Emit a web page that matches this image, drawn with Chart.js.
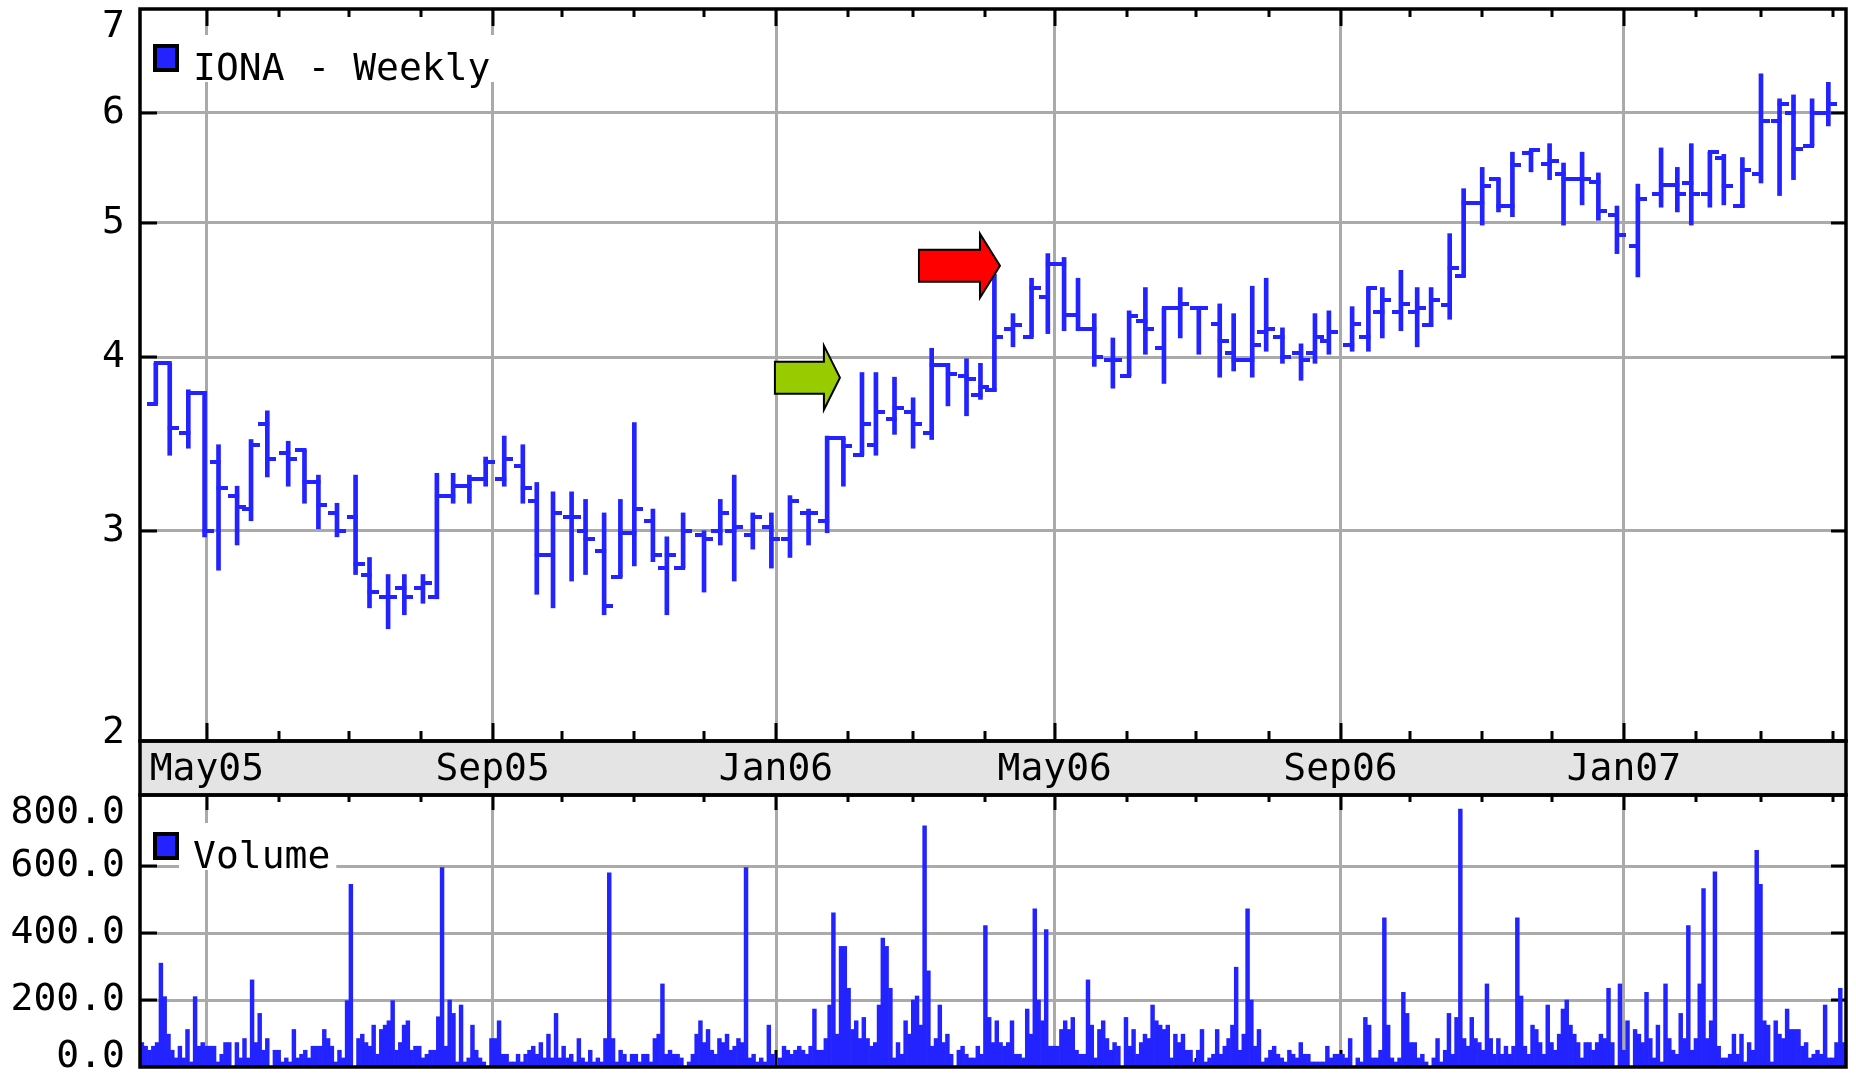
<!DOCTYPE html>
<html>
<head>
<meta charset="utf-8">
<title>IONA - Weekly</title>
<script src="https://cdn.jsdelivr.net/npm/chart.js"></script>
<style>
  html, body { margin: 0; padding: 0; background: #fff; }
  #wrap { position: relative; width: 1856px; height: 1073px; overflow: hidden; }
  #wrap canvas { position: absolute; left: 0; }
  #price { top: 0; }
  #volume { top: 780px; }
</style>
</head>
<body>
<div id="wrap">
  <canvas id="price" width="1856" height="800"></canvas>
  <canvas id="volume" width="1856" height="293"></canvas>
</div>
<script>
// x values are days after 1 Apr 2005
const START = Date.UTC(2005, 3, 1);
const DAY = 86400000;
const X_MIN = 1.2;
const X_MAX = 735.6;
const MONTHS = ["Jan", "Feb", "Mar", "Apr", "May", "Jun", "Jul", "Aug", "Sep", "Oct", "Nov", "Dec"];

// weekly bars
const barDay = [
  8, 14, 22, 29, 35, 43, 49, 56, 65, 72,
  78, 86, 94, 100, 108, 115, 123, 129, 136, 143,
  150, 158, 166, 172, 179, 187, 193, 201, 208, 214,
  222, 228, 235, 244, 251, 257, 265, 273, 281, 289,
  297, 304, 312, 318, 326, 334, 342, 349, 357, 363,
  369, 377, 385, 392, 399, 405, 412, 420, 427, 434,
  442, 449, 457, 466, 472, 480, 486, 493, 501, 507,
  513, 523, 530, 536, 544, 551, 557, 565, 571, 579,
  586, 592, 600, 608, 614, 622, 629, 637, 646, 656,
  663, 669, 677, 683, 691, 699, 707, 713, 721, 728,
];
const opens = [
  3.70, 3.96, 3.53, 3.77, 3.36, 3.18, 3.11, 3.58, 3.41, 3.43,
  3.25, 3.09, 3.07, 2.79, 2.69, 2.73, 2.73, 2.69, 3.18, 3.23,
  3.27, 3.27, 3.34, 3.15, 2.88, 3.07, 3.00, 2.90, 2.78, 2.99,
  3.05, 2.82, 2.82, 2.98, 3.00, 3.00, 2.98, 3.02, 2.96, 3.09,
  3.05, 3.50, 3.40, 3.46, 3.61, 3.65, 3.53, 3.95, 3.88, 3.76,
  3.79, 4.19, 4.14, 4.42, 4.67, 4.29, 4.19, 3.98, 3.88, 4.25,
  4.06, 4.34, 4.34, 4.23, 4.03, 3.98, 4.17, 4.14, 4.03, 4.03,
  4.11, 4.08, 4.14, 4.31, 4.31, 4.31, 4.22, 4.36, 4.58, 5.17,
  5.38, 5.14, 5.61, 5.51, 5.42, 5.38, 5.35, 5.06, 4.81, 5.24,
  5.32, 5.34, 5.24, 5.57, 5.14, 5.42, 5.92, 6.00, 5.68, 6.00,
];
const highs = [
  3.96, 3.96, 3.79, 3.78, 3.46, 3.23, 3.49, 3.66, 3.48, 3.43,
  3.29, 3.14, 3.29, 2.87, 2.79, 2.79, 2.79, 3.30, 3.30, 3.29,
  3.39, 3.51, 3.46, 3.25, 3.20, 3.20, 3.16, 3.09, 3.16, 3.59,
  3.11, 2.97, 3.09, 3.00, 3.16, 3.29, 3.09, 3.09, 3.18, 3.11,
  3.51, 3.50, 3.90, 3.90, 3.87, 3.74, 4.06, 3.96, 3.99, 3.96,
  4.59, 4.30, 4.56, 4.75, 4.72, 4.56, 4.30, 4.13, 4.32, 4.49,
  4.34, 4.49, 4.34, 4.37, 4.30, 4.50, 4.56, 4.20, 4.09, 4.30,
  4.32, 4.35, 4.49, 4.49, 4.62, 4.49, 4.49, 4.91, 5.29, 5.48,
  5.38, 5.62, 5.64, 5.70, 5.52, 5.62, 5.43, 5.14, 5.33, 5.66,
  5.48, 5.70, 5.62, 5.60, 5.57, 6.40, 6.14, 6.18, 6.14, 6.31,
];
const lows = [
  3.70, 3.40, 3.44, 2.97, 2.81, 2.93, 3.05, 3.28, 3.23, 3.14,
  3.01, 2.97, 2.79, 2.64, 2.55, 2.61, 2.66, 2.68, 3.14, 3.14,
  3.23, 3.23, 3.14, 2.70, 2.64, 2.76, 2.79, 2.61, 2.78, 2.83,
  2.85, 2.61, 2.82, 2.71, 2.93, 2.76, 2.91, 2.82, 2.87, 2.93,
  2.99, 3.23, 3.40, 3.40, 3.52, 3.44, 3.49, 3.69, 3.63, 3.73,
  3.78, 4.07, 4.14, 4.16, 4.18, 4.18, 3.94, 3.80, 3.88, 4.02,
  3.83, 4.13, 4.02, 3.87, 3.91, 3.87, 4.04, 3.96, 3.85, 3.96,
  4.02, 4.04, 4.04, 4.13, 4.18, 4.07, 4.21, 4.26, 4.57, 4.98,
  5.09, 5.05, 5.44, 5.37, 4.98, 5.15, 5.02, 4.75, 4.57, 5.13,
  5.09, 4.98, 5.13, 5.15, 5.13, 5.34, 5.23, 5.37, 5.68, 5.87,
];
const closes = [
  3.96, 3.56, 3.77, 3.00, 3.22, 3.12, 3.46, 3.38, 3.38, 3.25,
  3.13, 3.00, 2.84, 2.71, 2.69, 2.69, 2.75, 3.18, 3.23, 3.27,
  3.36, 3.38, 3.22, 2.88, 3.09, 3.07, 2.96, 2.65, 2.99, 3.11,
  2.88, 2.88, 3.00, 2.96, 3.09, 3.02, 3.07, 2.96, 3.15, 3.09,
  3.50, 3.45, 3.58, 3.65, 3.68, 3.58, 3.95, 3.89, 3.86, 3.81,
  4.14, 4.22, 4.49, 4.67, 4.29, 4.19, 4.00, 3.98, 4.28, 4.19,
  4.34, 4.37, 4.34, 4.11, 3.98, 4.08, 4.19, 4.00, 3.98, 4.14,
  4.17, 4.23, 4.49, 4.40, 4.37, 4.34, 4.40, 4.64, 5.17, 5.31,
  5.14, 5.50, 5.64, 5.54, 5.38, 5.38, 5.10, 4.90, 5.20, 5.32,
  5.24, 5.24, 5.62, 5.31, 5.46, 5.92, 6.09, 5.65, 6.00, 6.09,
];

// daily volume (thousands), one value per session, oldest first
const dailyVolume = [
  73, 62, 50, 62, 73, 310, 210, 98, 50, 27,
  62, 27, 112, 15, 210, 62, 73, 62, 62, 62,
  15, 38, 73, 73, 0, 73, 27, 85, 27, 260,
  73, 160, 50, 85, 0, 50, 50, 15, 27, 15,
  112, 27, 38, 50, 27, 62, 62, 62, 112, 85,
  62, 15, 50, 27, 198, 545, 0, 85, 98, 73,
  62, 125, 38, 112, 125, 138, 198, 50, 73, 125,
  138, 50, 62, 62, 27, 38, 50, 50, 150, 595,
  62, 200, 160, 15, 185, 15, 27, 125, 50, 27,
  15, 0, 85, 85, 138, 38, 38, 15, 15, 38,
  15, 38, 50, 62, 38, 73, 27, 98, 27, 160,
  27, 62, 27, 38, 15, 85, 27, 15, 50, 15,
  27, 15, 85, 580,
  85, 15, 50, 38, 15, 38, 38, 15,
  38, 38, 15, 85, 98, 248, 38, 50, 38, 38,
  27, 0, 15, 38, 98, 138, 73, 112, 50, 38,
  85, 73, 98, 50, 62, 85, 73, 595, 27, 38,
  15, 27, 15, 125, 38, 0, 27, 62, 50, 38,
  50, 62, 50, 38, 62, 173, 50, 50, 85,
  185, 460, 98, 360, 360, 235, 112, 138, 85, 148,
  85, 62, 73, 185, 385, 360, 235, 27, 73, 38,
  138, 98, 200, 212, 125, 720, 287, 62, 85, 185,
  73, 98, 38, 0, 50, 62, 38, 27, 27, 62,
  38, 422, 148, 73, 138, 73, 62, 73, 138, 38,
  38, 27, 173, 98, 472, 200, 138, 410, 62, 62,
  62, 112, 138, 112, 148, 50, 38, 38, 260, 125,
  27, 112, 138, 85, 50, 73, 62, 0, 148, 62,
  112, 38, 73, 98, 85, 185, 138, 125, 112, 125,
  27, 98, 73, 98, 50, 50, 15, 50, 112, 15,
  27, 38, 112, 38,
  62, 85, 125, 298, 50, 98, 472, 200, 62, 112,
  15, 27, 50, 62, 38, 27, 15, 50, 38, 27,
  73, 38, 38, 15, 15, 15, 15, 62, 27, 38, 38, 38,
  27, 85, 0, 27, 15, 148, 125, 27, 27, 50,
  445, 125, 27, 15, 27, 223, 160, 73, 73, 27,
  38, 15, 0, 27, 85, 15, 50, 160, 38, 148,
  770, 85, 62, 148, 85, 73, 50, 248, 85, 38,
  85, 38, 62, 38, 62, 445, 212, 62, 38, 125,
  112, 73, 38, 185, 73, 50, 98, 173, 200, 125,
  98, 73, 27, 73, 73, 50, 73, 98, 85, 235,
  73, 0, 248, 50, 138, 0, 112, 98, 73, 223,
  85, 27, 125, 15, 248, 85, 50, 38, 160, 85,
  422, 50, 85, 248, 533, 85, 138, 583, 62, 27,
  27, 38, 98, 38, 98, 15, 73, 50, 647, 545,
  138, 125, 15, 138, 98, 85, 173, 112, 112, 112,
  62, 73, 27, 38, 50, 38, 185, 27, 27, 73,
  235, 73,
];

// axis ticks (the end labels sit just inside the plot, like the original)
const priceTicks = [2.145, 3, 4, 5, 6, 6.92];
const priceGrid = [3, 4, 5, 6];
const volumeTicks = [30, 200, 400, 600, 758];
const volumeGrid = [200, 400, 600];

// the two markers pointing at the breakout weeks
const arrows = [
  { day: 302.5, price: 3.867, fill: "#99cc00", body: 49, head: 16 },
  { day: 371.4, price: 4.656, fill: "#ff0000", body: 61, head: 20 },
];

const BLUE = "#2323ff";
const GRID = "#aaaaaa";
const FAMILY = '"DejaVu Sans Mono", monospace';
const FONT = { family: FAMILY, size: 38 };
const CLEAR = "rgba(0,0,0,0)";

const monthOf = (v) => new Date(START + v * DAY).getUTCMonth();
const isMajor = (v) => monthOf(v) % 4 === 0;
const monthLabel = (v) => {
  const d = new Date(START + v * DAY);
  return MONTHS[d.getUTCMonth()] + String(d.getUTCFullYear()).slice(2);
};

const monthTicks = () => {
  const out = [];
  for (let y = 2005; y <= 2007; y++) {
    for (let m = 0; m < 12; m++) {
      const d = (Date.UTC(y, m, 1) - START) / DAY;
      if (d > X_MIN && d < X_MAX) out.push({ value: d });
    }
  }
  return out;
};

const tickImage = (side) => {
  const c = document.createElement("canvas");
  c.width = 18;
  c.height = 4;
  const g = c.getContext("2d");
  g.fillStyle = BLUE;
  if (side === "left") g.fillRect(0, 0, 11, 4);
  else g.fillRect(7, 0, 11, 4);
  return c;
};

const drawLegend = (chart, text, dy) => {
  const { ctx, chartArea: a } = chart;
  ctx.save();
  ctx.font = "38px " + FAMILY;
  const tw = ctx.measureText(text).width;
  const bx = a.left + 13;
  const by = a.top + dy;
  ctx.fillStyle = "#fff";
  ctx.fillRect(bx + 26, by - 9, tw + 20, 47);
  ctx.fillStyle = "#000";
  ctx.fillRect(bx, by, 26, 28);
  ctx.fillStyle = BLUE;
  ctx.fillRect(bx + 4, by + 4, 18, 20);
  ctx.fillStyle = "#000";
  ctx.textBaseline = "alphabetic";
  ctx.textAlign = "left";
  ctx.fillText(text, bx + 40, by + 36);
  ctx.restore();
};

const drawArrow = (ctx, x, y, a) => {
  const len = a.body + a.head;
  ctx.save();
  ctx.beginPath();
  ctx.moveTo(x, y);
  ctx.lineTo(x - a.head, y - 32);
  ctx.lineTo(x - a.head, y - 16);
  ctx.lineTo(x - len, y - 16);
  ctx.lineTo(x - len, y + 16);
  ctx.lineTo(x - a.head, y + 16);
  ctx.lineTo(x - a.head, y + 32);
  ctx.closePath();
  ctx.fillStyle = a.fill;
  ctx.fill();
  ctx.lineWidth = 2;
  ctx.strokeStyle = "#000";
  ctx.stroke();
  ctx.restore();
};

// frame, inward tick marks, label band, legend and arrows
const framePlugin = {
  id: "frame",
  beforeDraw(chart, args, opts) {
    if (!opts.band) return;
    const { ctx, chartArea: a } = chart;
    ctx.save();
    ctx.fillStyle = "#e4e4e4";
    ctx.fillRect(a.left, a.bottom, a.right - a.left, opts.band);
    ctx.restore();
  },
  beforeDatasetsDraw(chart, args, opts) {
    const { ctx, chartArea: a, scales } = chart;
    ctx.save();
    ctx.strokeStyle = "#000";
    ctx.lineWidth = 3;
    ctx.beginPath();
    scales.x.ticks.forEach((t) => {
      const px = Math.round(scales.x.getPixelForValue(t.value));
      const top = isMajor(t.value) ? opts.major[0] : opts.minor[0];
      const bot = isMajor(t.value) ? opts.major[1] : opts.minor[1];
      ctx.moveTo(px, a.top);
      ctx.lineTo(px, a.top + top);
      ctx.moveTo(px, a.bottom);
      ctx.lineTo(px, a.bottom - bot);
    });
    opts.grid.forEach((v) => {
      const py = Math.round(scales.y.getPixelForValue(v));
      ctx.moveTo(a.left, py);
      ctx.lineTo(a.left + 17, py);
      ctx.moveTo(a.right - 15, py);
      ctx.lineTo(a.right, py);
    });
    ctx.stroke();
    ctx.restore();
  },
  afterDatasetsDraw(chart, args, opts) {
    const { ctx, scales } = chart;
    (opts.arrows || []).forEach((ar) => {
      drawArrow(ctx, scales.x.getPixelForValue(ar.day), scales.y.getPixelForValue(ar.price), ar);
    });
    drawLegend(chart, opts.legend, opts.legendTop);
  },
  afterDraw(chart, args, opts) {
    const { ctx, chartArea: a } = chart;
    ctx.save();
    ctx.strokeStyle = "#000";
    ctx.lineWidth = 3.5;
    ctx.strokeRect(a.left, a.top, a.right - a.left, a.bottom - a.top);
    if (opts.band) ctx.strokeRect(a.left, a.bottom, a.right - a.left, opts.band);
    ctx.restore();
  },
};

Chart.defaults.color = "#000";
Chart.defaults.font.family = FAMILY;

// keep the plot box where the original has it: no extra room for edge labels
const noEdgePadding = (s) => {
  s.paddingTop = 0;
  s.paddingBottom = 0;
  s.paddingLeft = 0;
  s.paddingRight = 0;
};

const xAxis = (showLabels, height) => ({
  type: "linear",
  min: X_MIN,
  max: X_MAX,
  offset: false,
  afterBuildTicks: (s) => {
    s.ticks = monthTicks();
  },
  afterFit: (s) => {
    s.height = height;
    noEdgePadding(s);
  },
  grid: {
    color: (c) => (c.tick && isMajor(c.tick.value) ? GRID : CLEAR),
    lineWidth: 3,
    drawTicks: false,
    offset: false,
  },
  border: { display: false },
  ticks: {
    display: showLabels,
    autoSkip: false,
    maxRotation: 0,
    minRotation: 0,
    padding: 6,
    font: FONT,
    callback: (v) => (isMajor(v) ? monthLabel(v) : ""),
  },
});

const yGrid = (values) => ({
  color: (c) => (c.tick && values.includes(c.tick.value) ? GRID : CLEAR),
  lineWidth: 3,
  drawTicks: false,
});

new Chart(document.getElementById("price"), {
  type: "bar",
  data: {
    datasets: [
      {
        type: "bar",
        data: barDay.map((d, i) => ({ x: d, y: [lows[i], highs[i]] })),
        backgroundColor: BLUE,
        barThickness: 4,
        grouped: false,
        order: 2,
      },
      {
        type: "scatter",
        data: barDay.map((d, i) => ({ x: d, y: opens[i] })),
        pointStyle: tickImage("left"),
        pointRadius: 3,
        order: 1,
      },
      {
        type: "scatter",
        data: barDay.map((d, i) => ({ x: d, y: closes[i] })),
        pointStyle: tickImage("right"),
        pointRadius: 3,
        order: 1,
      },
    ],
  },
  options: {
    responsive: false,
    devicePixelRatio: 1,
    animation: false,
    events: [],
    layout: { padding: { top: 9, right: 10, left: 0, bottom: 0 } },
    scales: {
      x: xAxis(true, 59),
      y: {
        type: "logarithmic",
        min: 2.117,
        max: 7.126,
        afterBuildTicks: (s) => {
          s.ticks = priceTicks.map((v) => ({ value: v }));
        },
        afterFit: (s) => {
          s.width = 140;
          noEdgePadding(s);
        },
        grid: yGrid(priceGrid),
        border: { display: false },
        ticks: { padding: 15, font: FONT, callback: (v) => String(Math.round(v)) },
      },
    },
    plugins: {
      legend: { display: false },
      tooltip: { enabled: false },
      frame: {
        band: 54,
        major: [17, 18],
        minor: [8, 10],
        grid: priceGrid,
        legend: "IONA - Weekly",
        legendTop: 35,
        arrows: arrows,
      },
    },
  },
  plugins: [framePlugin],
});

const volStep = (X_MAX - X_MIN) / dailyVolume.length;

new Chart(document.getElementById("volume"), {
  type: "bar",
  data: {
    datasets: [
      {
        data: dailyVolume.map((v, i) => ({ x: X_MIN + (i + 0.5) * volStep, y: v })),
        backgroundColor: BLUE,
        borderWidth: 0,
        barPercentage: 1,
        categoryPercentage: 1,
      },
    ],
  },
  options: {
    responsive: false,
    devicePixelRatio: 1,
    animation: false,
    events: [],
    layout: { padding: { top: 15, right: 10, left: 0, bottom: 6 } },
    scales: {
      x: xAxis(false, 0),
      y: {
        type: "linear",
        min: 0,
        max: 812,
        afterBuildTicks: (s) => {
          s.ticks = volumeTicks.map((v) => ({ value: v }));
        },
        afterFit: (s) => {
          s.width = 140;
          noEdgePadding(s);
        },
        grid: yGrid(volumeGrid),
        border: { display: false },
        ticks: { padding: 15, font: FONT, callback: (v) => (Math.round(v / 200) * 200).toFixed(1) },
      },
    },
    plugins: {
      legend: { display: false },
      tooltip: { enabled: false },
      frame: {
        band: 0,
        major: [15, 17],
        minor: [7, 9],
        grid: volumeGrid,
        legend: "Volume",
        legendTop: 37,
      },
    },
  },
  plugins: [framePlugin],
});
</script>
</body>
</html>
